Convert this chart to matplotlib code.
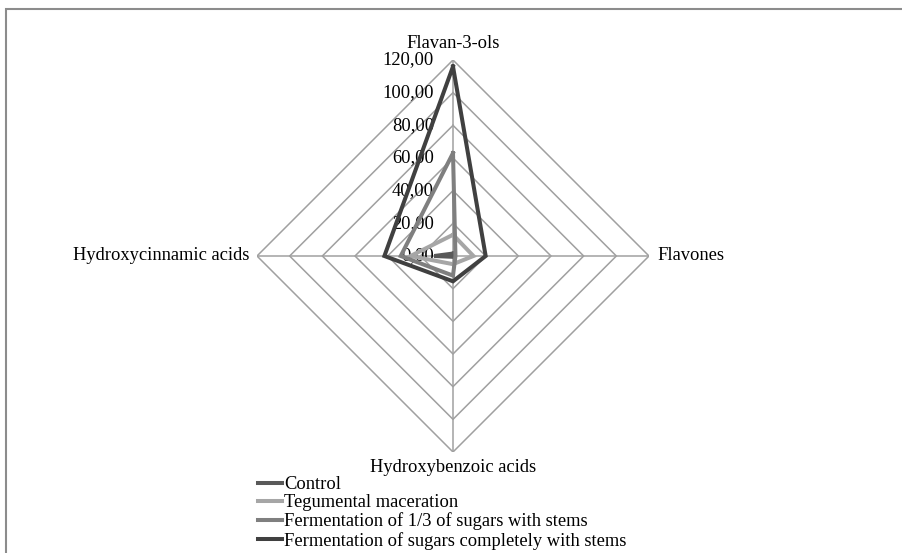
import numpy as np
import matplotlib.pyplot as plt
from matplotlib.patches import Rectangle

plt.rcParams['font.family'] = ['Liberation Serif', 'DejaVu Serif']

categories = ['Flavan-3-ols', 'Flavones', 'Hydroxybenzoic acids', 'Hydroxycinnamic acids']
series_names = ['Control', 'Tegumental maceration',
                'Fermentation of 1/3 of sugars with stems',
                'Fermentation of sugars completely with stems']
control = [1.5, 0.5, 0.5, 11.5]
tegumental = [13.0, 12.5, 5.0, 26.0]
ferm_third = [63.0, 1.5, 12.0, 32.0]
ferm_full = [116.0, 20.0, 15.5, 42.0]
ring_values = [20, 40, 60, 80, 100, 120]
ring_labels = ['0,00', '20,00', '40,00', '60,00', '80,00', '100,00', '120,00']
colors = ['#595959', '#a6a6a6', '#7f7f7f', '#404040']

fs = 13.3

fig = plt.figure(figsize=(9.03, 5.53), dpi=100)
fig.patches.append(Rectangle((6 / 903, -0.1), 1.2, 1 - 9 / 553 + 0.1,
                             transform=fig.transFigure, fill=False,
                             edgecolor='#8c8c8c', linewidth=1.5))

cx, cy, R = 453, 256, 196
ax = fig.add_axes([(cx - R) / 903, (553 - cy - R) / 553, 2 * R / 903, 2 * R / 553],
                  projection='polar')
ax.set_theta_offset(np.pi / 2)
ax.set_theta_direction(-1)
ax.set_ylim(0, 120)
ax.grid(False)
ax.set_xticks([])
ax.set_yticks([])
ax.spines['polar'].set_visible(False)
ax.patch.set_alpha(0)

angles = np.linspace(0, 2 * np.pi, len(categories), endpoint=False)
closed = np.append(angles, angles[0])

# polygon grid and spokes
for rv in ring_values:
    ax.plot(closed, [rv] * len(closed), color='#a0a0a0', lw=1.1, zorder=1)
for a in angles:
    ax.plot([a, a], [0, 120], color='#a0a0a0', lw=1.1, zorder=1)

data = [control, tegumental, ferm_third, ferm_full]
for name, vals, c in zip(series_names, data, colors):
    ax.plot(closed, vals + vals[:1], color=c, lw=2.9, label=name, zorder=3,
            solid_joinstyle='miter')

# radial value labels
for i, lab in enumerate(ring_labels):
    ax.annotate(lab, xy=(0, i * 20), xytext=(-19, 0), textcoords='offset pixels',
                ha='right', va='center', fontsize=fs, zorder=2)

# category labels
offsets = [((0, 17), 'center', 'center'), ((8, 0), 'left', 'center'),
           ((0, -16), 'center', 'center'), ((-8, 0), 'right', 'center')]
for a, cat, (off, ha, va) in zip(angles, categories, offsets):
    ax.annotate(cat, xy=(a, 120), xytext=off, textcoords='offset pixels',
                ha=ha, va=va, fontsize=fs)

fig.legend(loc='upper left', bbox_to_anchor=(258 / 903, 1 - 476 / 553),
           frameon=False, fontsize=fs, handlelength=1.3, handletextpad=0.1,
           labelspacing=0.07, borderpad=0, borderaxespad=0)

fig.savefig('out.png', dpi=100)
